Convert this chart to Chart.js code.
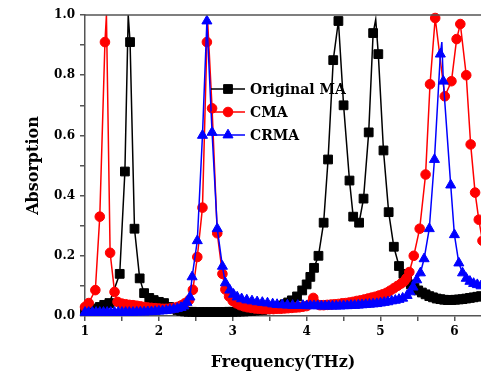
<!DOCTYPE html>
<html><head><meta charset="utf-8">
<script src="https://cdn.jsdelivr.net/npm/chart.js@4/dist/chart.umd.min.js"></script>
<style>html,body{margin:0;padding:0;background:#fff;}#wrap{width:481px;height:379px;position:relative;}</style>
</head><body><div id="wrap"><canvas id="c" width="481" height="379"></canvas></div>
<script>
const seriesNames = ['Original MA', 'CMA', 'CRMA'];

// Original MA (black squares)
const maX = [1.00,1.05,1.10,1.15,1.20,1.26,1.33,1.47,1.54,1.61,1.67,1.74,1.80,1.87,1.93,2.00,2.07,2.14,2.20,2.25,2.30,2.35,2.40,2.45,2.50,2.55,2.60,2.65,2.70,2.75,2.80,2.85,2.90,2.95,3.00,3.05,3.10,3.15,3.20,3.25,3.30,3.35,3.40,3.45,3.50,3.55,3.60,3.65,3.70,3.75,3.80,3.87,3.94,4.00,4.05,4.10,4.16,4.23,4.29,4.36,4.43,4.50,4.58,4.63,4.71,4.77,4.84,4.90,4.97,5.04,5.11,5.18,5.25,5.31,5.36,5.41,5.46,5.51,5.56,5.61,5.66,5.71,5.76,5.81,5.86,5.91,5.96,6.01,6.06,6.11,6.16,6.21,6.26,6.31,6.36];
const maY = [0.018,0.020,0.022,0.025,0.030,0.037,0.043,0.14,0.48,0.91,0.29,0.125,0.076,0.060,0.053,0.047,0.043,0.030,0.025,0.020,0.017,0.015,0.014,0.014,0.013,0.013,0.013,0.013,0.013,0.013,0.013,0.013,0.013,0.014,0.014,0.014,0.015,0.015,0.016,0.017,0.018,0.019,0.020,0.022,0.024,0.027,0.030,0.034,0.039,0.045,0.052,0.065,0.085,0.105,0.13,0.16,0.20,0.31,0.52,0.85,0.98,0.70,0.45,0.33,0.31,0.39,0.61,0.94,0.87,0.55,0.345,0.23,0.166,0.14,0.12,0.105,0.094,0.085,0.078,0.072,0.066,0.062,0.058,0.056,0.054,0.053,0.053,0.054,0.055,0.056,0.058,0.060,0.062,0.064,0.066];
const maPeakX = [1.585, 4.935];
const maPeakY = [1.0, 0.985];

// CMA (red circles)
const cmaX = [1.00,1.05,1.14,1.20,1.27,1.34,1.40,1.44,1.50,1.55,1.60,1.65,1.70,1.75,1.80,1.85,1.90,1.95,2.00,2.05,2.10,2.15,2.20,2.25,2.30,2.35,2.41,2.46,2.52,2.59,2.65,2.72,2.79,2.86,2.90,2.95,3.00,3.05,3.10,3.15,3.20,3.25,3.30,3.35,3.40,3.45,3.50,3.55,3.60,3.65,3.70,3.75,3.80,3.85,3.90,3.95,4.00,4.05,4.09,4.13,4.18,4.23,4.28,4.33,4.38,4.43,4.48,4.53,4.58,4.63,4.68,4.73,4.78,4.83,4.88,4.93,4.98,5.03,5.08,5.13,5.18,5.23,5.28,5.32,5.35,5.39,5.45,5.53,5.61,5.67,5.74,5.87,5.96,6.03,6.08,6.16,6.22,6.28,6.33,6.38];
const cmaY = [0.030,0.043,0.086,0.33,0.91,0.21,0.080,0.047,0.041,0.039,0.037,0.036,0.034,0.032,0.030,0.028,0.027,0.026,0.025,0.024,0.024,0.025,0.027,0.030,0.035,0.042,0.053,0.087,0.196,0.36,0.91,0.69,0.275,0.14,0.088,0.065,0.050,0.042,0.036,0.032,0.029,0.027,0.025,0.024,0.023,0.023,0.023,0.023,0.024,0.024,0.025,0.026,0.027,0.028,0.029,0.031,0.033,0.040,0.060,0.040,0.036,0.036,0.037,0.038,0.039,0.040,0.042,0.043,0.045,0.047,0.050,0.052,0.055,0.058,0.061,0.064,0.068,0.072,0.077,0.084,0.092,0.100,0.108,0.115,0.125,0.146,0.20,0.29,0.47,0.77,0.99,0.73,0.78,0.92,0.97,0.80,0.57,0.41,0.32,0.25];
const cmaPeakX = [1.29, 2.66];
const cmaPeakY = [1.0, 0.98];

// CRMA (blue triangles)
const crmaX = [1.00,1.05,1.10,1.15,1.20,1.25,1.30,1.35,1.40,1.45,1.50,1.55,1.60,1.65,1.70,1.75,1.80,1.85,1.90,1.95,2.00,2.05,2.10,2.15,2.20,2.25,2.30,2.34,2.38,2.42,2.45,2.52,2.59,2.65,2.72,2.79,2.86,2.90,2.96,3.01,3.06,3.12,3.19,3.26,3.33,3.40,3.47,3.54,3.60,3.67,3.74,3.81,3.88,3.95,4.00,4.05,4.10,4.15,4.20,4.25,4.30,4.35,4.40,4.45,4.50,4.55,4.60,4.65,4.70,4.75,4.80,4.85,4.90,4.95,5.00,5.05,5.10,5.15,5.20,5.25,5.30,5.36,5.40,5.44,5.49,5.54,5.59,5.66,5.73,5.81,5.85,5.95,6.00,6.06,6.11,6.16,6.21,6.26,6.31,6.36];
const crmaY = [0.012,0.012,0.012,0.012,0.012,0.012,0.012,0.012,0.012,0.012,0.012,0.012,0.012,0.012,0.013,0.013,0.013,0.014,0.014,0.015,0.016,0.017,0.018,0.020,0.022,0.025,0.028,0.033,0.045,0.063,0.13,0.25,0.60,0.98,0.61,0.29,0.165,0.11,0.086,0.072,0.063,0.057,0.053,0.050,0.047,0.045,0.043,0.040,0.038,0.037,0.036,0.035,0.035,0.035,0.034,0.034,0.034,0.034,0.033,0.033,0.033,0.033,0.033,0.033,0.034,0.034,0.035,0.035,0.036,0.037,0.038,0.039,0.040,0.041,0.043,0.045,0.047,0.050,0.052,0.055,0.059,0.068,0.080,0.096,0.12,0.143,0.19,0.29,0.52,0.87,0.78,0.435,0.27,0.176,0.143,0.125,0.115,0.108,0.104,0.100];
const crmaPeakX = [5.83];
const crmaPeakY = [0.91];

const xTickValues = [1, 1.5, 2, 2.5, 3, 3.5, 4, 4.5, 5, 5.5, 6];
const xTickLabels = ['1', '', '2', '', '3', '', '4', '', '5', '', '6'];
const yTickLabels = ['0.0','0.2','0.4','0.6','0.8','1.0'];

function pts(xs, ys) { return xs.map((x, i) => ({x: x, y: ys[i]})); }
function lineData(xs, ys, px, py) { return pts(xs, ys).concat(pts(px, py)).sort((a, b) => a.x - b.x); }

const FONT = 'DejaVu Serif';
const CLIP = {left: 8, top: 3, right: 0, bottom: 8};
const styles = [
  {color: '#000000', point: 'rect', r: 6.2},
  {color: '#ff0000', point: 'circle', r: 4.8},
  {color: '#0000ff', point: 'triangle', r: 5.8}
];
const src = [[maX, maY, maPeakX, maPeakY], [cmaX, cmaY, cmaPeakX, cmaPeakY], [crmaX, crmaY, crmaPeakX, crmaPeakY]];

const datasets = [];
src.forEach((s, i) => {
  const st = styles[i];
  datasets.push({
    label: seriesNames[i] + ' line', data: lineData(s[0], s[1], s[2], s[3]),
    borderColor: st.color, borderWidth: 1.5, pointRadius: 0, fill: false, tension: 0,
    order: 10 - 2 * i, clip: CLIP
  });
  datasets.push({
    label: seriesNames[i], data: pts(s[0], s[1]), showLine: false,
    pointStyle: st.point, pointRadius: st.r, pointBackgroundColor: st.color, pointBorderColor: st.color,
    pointBorderWidth: 1, order: 9 - 2 * i, clip: CLIP
  });
});

const framePlugin = {
  id: 'frame',
  afterDatasetsDraw(chart) {
    const {ctx, chartArea: a} = chart;
    ctx.save();
    ctx.strokeStyle = '#555';
    ctx.lineWidth = 1.5;
    ctx.beginPath();
    ctx.moveTo(a.left, a.top);
    ctx.lineTo(a.right, a.top);
    ctx.stroke();
    ctx.restore();
  }
};

const legendPlugin = {
  id: 'innerLegend',
  afterDatasetsDraw(chart) {
    const {ctx, chartArea: a} = chart;
    ctx.save();
    seriesNames.forEach((name, i) => {
      const st = styles[i];
      const y = a.top + 74 + i * 23;
      const x0 = a.left + 126, x1 = a.left + 160, xm = a.left + 143;
      ctx.strokeStyle = st.color;
      ctx.lineWidth = 1.5;
      ctx.beginPath(); ctx.moveTo(x0, y); ctx.lineTo(x1, y); ctx.stroke();
      ctx.fillStyle = st.color;
      ctx.strokeStyle = st.color;
      ctx.lineWidth = 1;
      Chart.helpers.drawPoint(ctx, {pointStyle: st.point, radius: st.r, rotation: 0, borderWidth: 1}, xm, y);
      ctx.fillStyle = '#000';
      ctx.font = 'bold 14px "' + FONT + '"';
      ctx.textBaseline = 'middle';
      ctx.textAlign = 'left';
      ctx.fillText(name, a.left + 165, y + 1);
    });
    ctx.restore();
  }
};

const tickFont = {family: FONT, weight: 'bold', size: 12};
new Chart(document.getElementById('c'), {
  type: 'line',
  data: {datasets: datasets},
  options: {
    responsive: false, animation: false, devicePixelRatio: 1,
    layout: {autoPadding: false, padding: {top: 15, left: 0, right: 0, bottom: 0}},
    plugins: {legend: {display: false}, tooltip: {enabled: false}},
    scales: {
      x: {
        type: 'linear', min: 1, max: 6.36,
        afterBuildTicks: (s) => { s.ticks = xTickValues.map((v) => ({value: v})); },
        ticks: {
          autoSkip: false, maxRotation: 0, color: '#000', font: tickFont, padding: 4,
          callback: (v) => { const i = xTickValues.indexOf(v); return i >= 0 ? xTickLabels[i] : ''; }
        },
        grid: {drawOnChartArea: false, drawTicks: true, tickLength: 5, color: '#555', lineWidth: 1.5},
        border: {color: '#555', width: 1.5},
        title: {display: true, text: 'Frequency(THz)', color: '#000', font: {family: FONT, weight: 'bold', size: 16}, padding: {top: 0, bottom: 7}},
        afterFit: (s) => { s.height = 63; s.paddingRight = 0; s.paddingLeft = 0; }
      },
      y: {
        min: 0, max: 1,
        ticks: {
          stepSize: 0.1, color: '#000', font: tickFont, padding: 5,
          callback: (v) => { const r = Math.round(v * 10); return r % 2 === 0 ? (yTickLabels[r / 2] || '') : ''; }
        },
        grid: {drawOnChartArea: false, drawTicks: true, tickLength: 5, color: '#555', lineWidth: 1.5},
        border: {color: '#555', width: 1.5},
        title: {display: true, text: 'Absorption', color: '#000', font: {family: FONT, weight: 'bold', size: 16}, padding: {top: 24, bottom: 0}},
        afterFit: (s) => { s.width = 85; }
      }
    }
  },
  plugins: [framePlugin, legendPlugin]
});
</script>
</body></html>
